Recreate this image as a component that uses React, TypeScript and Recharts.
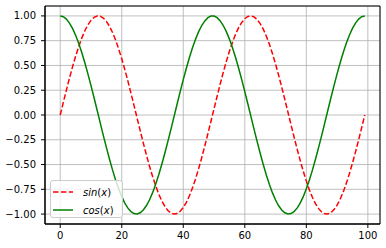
import React from 'react'
import {
  LineChart,
  Line,
  XAxis,
  YAxis,
  CartesianGrid,
  Legend,
  ReferenceArea,
} from 'recharts'

// sample index along x
const xs = [
  0, 1, 2, 3, 4, 5, 6, 7, 8, 9, 10, 11, 12, 13, 14, 15, 16, 17, 18, 19,
  20, 21, 22, 23, 24, 25, 26, 27, 28, 29, 30, 31, 32, 33, 34, 35, 36, 37, 38, 39,
  40, 41, 42, 43, 44, 45, 46, 47, 48, 49, 50, 51, 52, 53, 54, 55, 56, 57, 58, 59,
  60, 61, 62, 63, 64, 65, 66, 67, 68, 69, 70, 71, 72, 73, 74, 75, 76, 77, 78, 79,
  80, 81, 82, 83, 84, 85, 86, 87, 88, 89, 90, 91, 92, 93, 94, 95, 96, 97, 98, 99,
]

const sinValues = [
  0, 0.127, 0.251, 0.372, 0.486, 0.593, 0.69, 0.776, 0.85, 0.91,
  0.955, 0.985, 0.999, 0.997, 0.979, 0.945, 0.896, 0.833, 0.756, 0.667,
  0.567, 0.458, 0.342, 0.22, 0.095, -0.032, -0.158, -0.282, -0.401, -0.514,
  -0.618, -0.713, -0.796, -0.866, -0.922, -0.964, -0.99, -1.0, -0.994, -0.972,
  -0.934, -0.881, -0.815, -0.735, -0.643, -0.541, -0.43, -0.312, -0.189, -0.063,
  0.063, 0.189, 0.312, 0.43, 0.541, 0.643, 0.735, 0.815, 0.881, 0.934,
  0.972, 0.994, 1.0, 0.99, 0.964, 0.922, 0.866, 0.796, 0.713, 0.618,
  0.514, 0.401, 0.282, 0.158, 0.032, -0.095, -0.22, -0.342, -0.458, -0.567,
  -0.667, -0.756, -0.833, -0.896, -0.945, -0.979, -0.997, -0.999, -0.985, -0.955,
  -0.91, -0.85, -0.776, -0.69, -0.593, -0.486, -0.372, -0.251, -0.127, 0,
]

const cosValues = [
  1.0, 0.992, 0.968, 0.928, 0.874, 0.805, 0.724, 0.631, 0.527, 0.415,
  0.297, 0.174, 0.048, -0.079, -0.205, -0.327, -0.444, -0.554, -0.655, -0.745,
  -0.824, -0.889, -0.94, -0.975, -0.995, -0.999, -0.987, -0.959, -0.916, -0.858,
  -0.786, -0.701, -0.606, -0.5, -0.386, -0.266, -0.142, -0.016, 0.111, 0.236,
  0.357, 0.472, 0.58, 0.679, 0.766, 0.841, 0.903, 0.95, 0.982, 0.998,
  0.998, 0.982, 0.95, 0.903, 0.841, 0.766, 0.679, 0.58, 0.472, 0.357,
  0.236, 0.111, -0.016, -0.142, -0.266, -0.386, -0.5, -0.606, -0.701, -0.786,
  -0.858, -0.916, -0.959, -0.987, -0.999, -0.995, -0.975, -0.94, -0.889, -0.824,
  -0.745, -0.655, -0.554, -0.444, -0.327, -0.205, -0.079, 0.048, 0.174, 0.297,
  0.415, 0.527, 0.631, 0.724, 0.805, 0.874, 0.928, 0.968, 0.992, 1.0,
]

const xTicks = [0, 20, 40, 60, 80, 100]
const yTicks = [-1, -0.75, -0.5, -0.25, 0, 0.25, 0.5, 0.75, 1]

const data = xs.map((x, i) => ({ x, sin: sinValues[i], cos: cosValues[i] }))

const X_DOMAIN: [number, number] = [-4.95, 103.95]
const Y_DOMAIN: [number, number] = [-1.1, 1.1]

const FONT = '"DejaVu Sans", sans-serif'
const tickStyle = { fill: '#000', fontSize: 10, fontFamily: FONT }

const legendItems = [
  { fn: 'sin', color: '#ff0000', dash: '5.5 2.4' },
  { fn: 'cos', color: '#008000', dash: undefined },
]

const LegendBox = () => (
  <div
    style={{
      position: 'relative',
      width: 73,
      height: 38,
      boxSizing: 'border-box',
      border: '1px solid #cccccc',
      borderRadius: 3,
      background: 'rgba(255,255,255,0.8)',
      fontFamily: FONT,
      fontSize: 10,
      color: '#000',
    }}
  >
    {legendItems.map((it, idx) => (
      <div
        key={it.fn}
        style={{ position: 'absolute', left: 2, top: 2 + idx * 18, height: 18, display: 'flex', alignItems: 'center' }}
      >
        <svg width={20} height={4} style={{ display: 'block' }}>
          <line x1={0} y1={2} x2={20} y2={2} stroke={it.color} strokeWidth={1.5} strokeDasharray={it.dash} />
        </svg>
        <span style={{ marginLeft: 10, whiteSpace: 'nowrap' }}>
          <i>{it.fn}</i>(<i>x</i>)
        </span>
      </div>
    ))}
  </div>
)

export default function App() {
  return (
    <div style={{ position: 'absolute', left: 0, top: 0, width: 386, height: 248, background: '#fff' }}>
      <LineChart width={386} height={248} data={data} margin={{ top: 6, right: 6, left: 0, bottom: 0 }}>
        <CartesianGrid stroke="#b0b0b0" strokeWidth={0.8} />
        <XAxis
          dataKey="x"
          type="number"
          domain={X_DOMAIN}
          ticks={xTicks}
          allowDataOverflow
          height={24}
          tickSize={4}
          tickMargin={4}
          tick={tickStyle}
          axisLine={{ stroke: '#000' }}
          tickLine={{ stroke: '#000' }}
        />
        <YAxis
          type="number"
          domain={Y_DOMAIN}
          ticks={yTicks}
          allowDataOverflow
          width={45}
          tickSize={4}
          tickMargin={5}
          tick={tickStyle}
          axisLine={{ stroke: '#000' }}
          tickLine={{ stroke: '#000' }}
          tickFormatter={(v: number) => v.toFixed(2).replace('-', '\u2212')}
        />
        <Line
          dataKey="sin"
          type="linear"
          stroke="#ff0000"
          strokeWidth={1.5}
          strokeDasharray="5.5 2.4"
          dot={false}
          activeDot={false}
          isAnimationActive={false}
        />
        <Line
          dataKey="cos"
          type="linear"
          stroke="#008000"
          strokeWidth={1.5}
          dot={false}
          activeDot={false}
          isAnimationActive={false}
        />
        <ReferenceArea
          x1={X_DOMAIN[0]}
          x2={X_DOMAIN[1]}
          y1={Y_DOMAIN[0]}
          y2={Y_DOMAIN[1]}
          fill="none"
          stroke="#000"
          strokeWidth={1}
        />
        <Legend
          layout="vertical"
          align="center"
          verticalAlign="middle"
          content={() => <LegendBox />}
          wrapperStyle={{ left: 50, top: 180, width: 'auto', height: 'auto' }}
        />
      </LineChart>
    </div>
  )
}
